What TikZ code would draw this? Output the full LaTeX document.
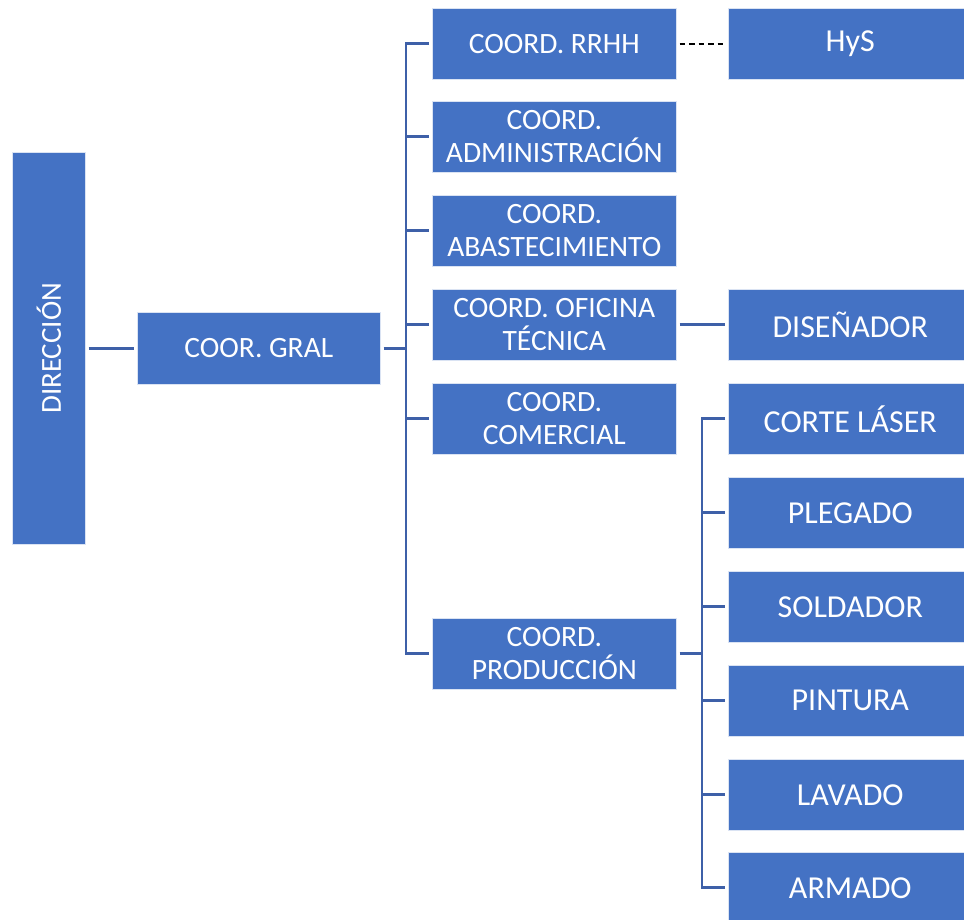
\documentclass[tikz,border=0pt]{standalone}
\usepackage{fontspec}
\setmainfont{Carlito}
\begin{document}
\begin{tikzpicture}[x=1pt,y=-1pt,
  box/.style={draw=white!80!boxblue, line width=0.6pt, fill=boxblue, text=white,
    anchor=north west, minimum width=244pt, minimum height=71pt,
    align=center, inner sep=2pt, font=\fontsize{29.5}{33}\selectfont},
  rbox/.style={box, minimum width=244pt, font=\fontsize{32}{36}\selectfont},
  conn/.style={draw=lineblue, line width=2.8pt},
  dash link/.style={draw=black, line width=1.6pt, dash pattern=on 5.5pt off 4pt}]
\definecolor{boxblue}{HTML}{4472C4}
\definecolor{lineblue}{RGB}{62,96,168}
\useasboundingbox (0,0) rectangle (964,919);

% top level
\node[box, minimum width=73pt, minimum height=392pt] (dir) at (12,152) {};
\node[rotate=90, text=white, font=\fontsize{29}{33}\selectfont] (dirlbl) at (dir.center) {DIRECCIÓN};
\node[box, minimum width=243pt, minimum height=72pt] (gral) at (137,312) {COOR. GRAL};

% coordinations
\node[box] (rrhh)  at (432,8)   {COORD. RRHH};
\node[box] (adm)   at (432,101) {COORD.\\ADMINISTRACIÓN};
\node[box] (abs)   at (432,195) {COORD.\\ABASTECIMIENTO};
\node[box] (ofi)   at (432,289) {COORD. OFICINA\\TÉCNICA};
\node[box] (com)   at (432,383) {COORD.\\COMERCIAL};
\node[box] (prod)  at (432,618) {COORD.\\PRODUCCIÓN};

% right column (runs past the right page edge)
\node[rbox] (hys)   at (728,8)   {HyS};
\node[rbox] (dis)   at (728,289) {DISEÑADOR};
\node[rbox] (corte) at (728,383) {CORTE LÁSER};
\node[rbox] (pleg)  at (728,477) {PLEGADO};
\node[rbox] (sold)  at (728,571) {SOLDADOR};
\node[rbox] (pint)  at (728,665) {PINTURA};
\node[rbox] (lav)   at (728,759) {LAVADO};
\node[rbox] (arm)   at (728,852) {ARMADO};

% bus positions
\coordinate (busA) at (406,348);
\coordinate (busB) at (702,653);

% connectors
\draw[conn] ([xshift=3pt]dir.east |- gral.west) -- ([xshift=-3pt]gral.west);
\draw[conn] ([xshift=3pt]gral.east) -- (busA |- gral.east);
\draw[conn] ([xshift=-3pt]rrhh.west) -| (busA |- prod.west) -- ([xshift=-3pt]prod.west);
\foreach \n in {adm,abs,ofi,com}
  \draw[conn] (busA |- \n.west) -- ([xshift=-3pt]\n.west);

\draw[dash link] ([xshift=3pt]rrhh.east) -- ([xshift=-3pt]hys.west);
\draw[conn] ([xshift=3pt]ofi.east) -- ([xshift=-3pt]dis.west);

\draw[conn] ([xshift=3pt]prod.east) -- (busB |- prod.east);
\draw[conn] ([xshift=-3pt]corte.west) -| (busB |- arm.west) -- ([xshift=-3pt]arm.west);
\foreach \n in {pleg,sold,pint,lav}
  \draw[conn] (busB |- \n.west) -- ([xshift=-3pt]\n.west);
\end{tikzpicture}
\end{document}
